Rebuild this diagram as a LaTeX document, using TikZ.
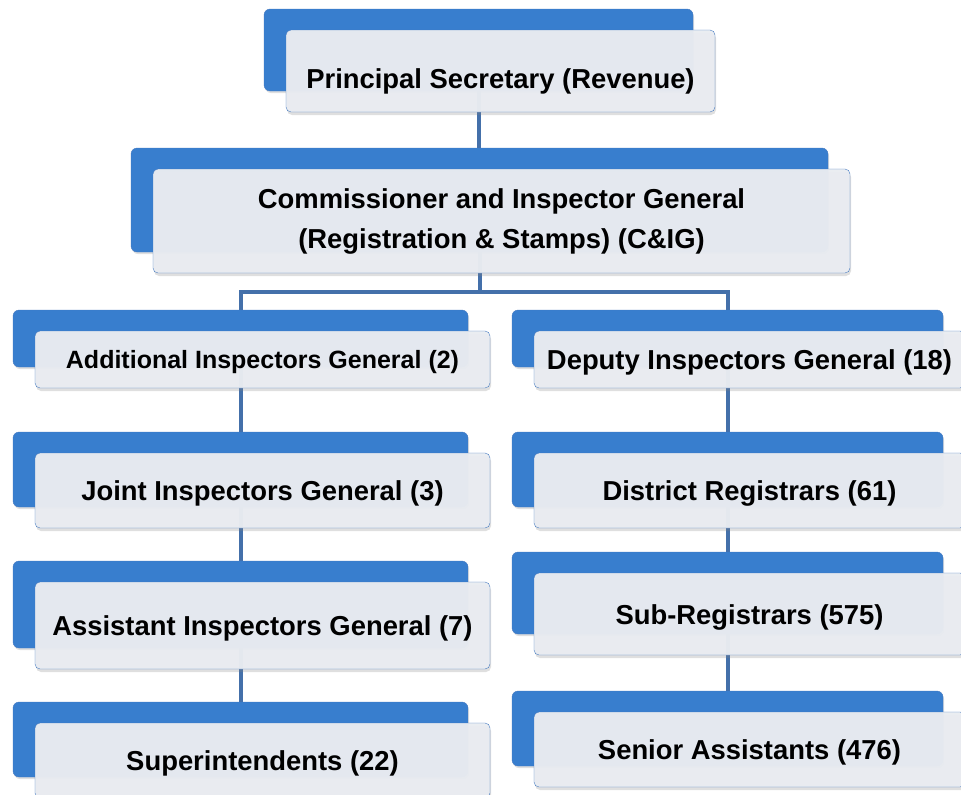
\documentclass[tikz,border=0pt]{standalone}
\usepackage{fontspec}
\setmainfont{Liberation Sans}
\usetikzlibrary{calc,shadows,backgrounds}
\definecolor{rahmen}{RGB}{70,122,192}
\definecolor{blautop}{RGB}{112,178,238}
\definecolor{blaumid}{RGB}{56,126,206}
\definecolor{blaubot}{RGB}{40,100,178}
\definecolor{karte}{RGB}{233,236,241}
\definecolor{linie}{RGB}{68,112,170}
\pgfdeclareverticalshading{kartenblau}{100bp}{color(0bp)=(blaubot); color(10bp)=(blaumid); color(84bp)=(blaumid); color(96bp)=(blautop); color(100bp)=(blautop)}

% back card drawn first, front card with text on top
\newcommand{\orgentry}[6][zeile]{%
    \node[backbox, minimum width=#4, minimum height=#5] (#2-b) at ($(#3)+(-22,-21)$) {};
    \node[frontbox, minimum width=#4, minimum height=#5, #1] (#2) at (#3) {#6};
}

\begin{document}
\begin{tikzpicture}[x=1pt, y=-1pt,
    backbox/.style={rectangle, rounded corners=6pt, draw=rahmen, inner sep=0pt,
        shading=kartenblau,
        drop shadow={shadow xshift=1pt, shadow yshift=-2pt, opacity=0.25}},
    frontbox/.style={rectangle, rounded corners=5pt, draw=rahmen, fill=karte, fill opacity=0.97,
        text opacity=1, inner sep=0pt, align=center, text=black,
        font=\bfseries\fontsize{27.4}{40}\selectfont,
        drop shadow={shadow xshift=1pt, shadow yshift=-3pt, opacity=0.25}},
    zeile/.style={text height=20pt, text depth=0pt},
    conn/.style={draw=linie, line width=4pt}]

    \useasboundingbox (0,0) rectangle (961,795);

    \orgentry{ps}{500.5,71}{429pt}{82pt}{\raisebox{-7pt}{Principal Secretary (Revenue)}}
    \orgentry[]{cig}{501.5,221}{697pt}{104pt}{Commissioner and Inspector General\\(Registration \& Stamps) (C\&IG)}

    % left column
    \orgentry[font=\bfseries\fontsize{25}{30}\selectfont, text height=18pt, text depth=0pt]{aig}{262.5,359.5}{455pt}{57pt}{Additional Inspectors General (2)}
    \orgentry{jig}{262.5,490.5}{455pt}{75pt}{Joint Inspectors General (3)}
    \orgentry{asig}{262.5,625.5}{455pt}{87pt}{Assistant Inspectors General (7)}
    \orgentry{supt}{262.5,760.5}{455pt}{75pt}{Superintendents (22)}

    % right column
    \orgentry{dig}{749.5,359.5}{431pt}{57pt}{Deputy Inspectors General (18)}
    \orgentry{dr}{749.5,490.5}{431pt}{75pt}{District Registrars (61)}
    \orgentry{sr}{749.5,614}{431pt}{82pt}{Sub-Registrars (575)}
    \orgentry{sa}{749.5,749.5}{431pt}{75pt}{Senior Assistants (476)}

    \begin{scope}[on background layer]
        \coordinate (gabel) at (479.5,292);
        \draw[conn] (ps-b.center) -- (ps-b.center |- cig-b.center);
        \draw[conn] (cig-b.center) -- (gabel);
        \draw[conn] (aig-b.center) |- (gabel) -| (dig-b.center);
        \foreach \a/\b in {aig/jig, jig/asig, asig/supt, dig/dr, dr/sr, sr/sa}{
            \draw[conn] (\a-b.center) -- (\a-b.center |- \b-b.center);
        }
    \end{scope}

\end{tikzpicture}
\end{document}
